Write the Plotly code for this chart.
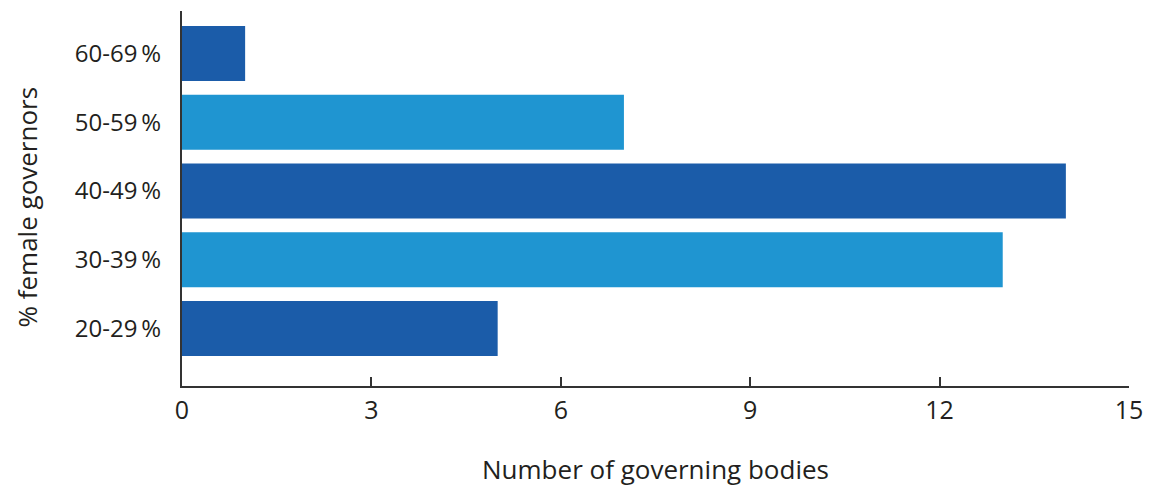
import plotly.graph_objects as go

categories = ["20-29\u2009%", "30-39\u2009%", "40-49\u2009%", "50-59\u2009%", "60-69\u2009%"]
values = [5, 13, 14, 7, 1]
bar_colors = ["#1b5ca9", "#1f95d1", "#1b5ca9", "#1f95d1", "#1b5ca9"]
x_ticks = [0, 3, 6, 9, 12, 15]

FONT = "Open Sans"
TXT = "#231f20"

fig = go.Figure(go.Bar(
    x=values, y=categories, orientation="h",
    marker=dict(color=bar_colors, line=dict(width=0)),
))

fig.update_layout(
    width=1155, height=485,
    margin=dict(l=174, r=34, t=3, b=107),
    paper_bgcolor="white", plot_bgcolor="white",
    bargap=0.2,
    showlegend=False,
    font=dict(family=FONT, size=24, color=TXT),
    annotations=[dict(
        text="% female governors", textangle=-90,
        xref="paper", yref="paper", x=0, y=0.5,
        xanchor="center", yanchor="middle",
        xshift=-156, yshift=-9, showarrow=False,
        font=dict(size=26, color=TXT),
    )],
)
fig.update_xaxes(
    range=[0, 15], tickvals=x_ticks, showgrid=False, zeroline=False,
    showline=True, linecolor="#333333", linewidth=2,
    ticks="inside", ticklen=9, tickwidth=2, tickcolor="#333333",
    tickfont=dict(size=25, color=TXT), ticklabelstandoff=1,
    title=dict(text="Number of governing bodies", font=dict(size=26, color=TXT), standoff=36),
)
fig.update_yaxes(
    range=[-0.836, 4.618], showgrid=False, zeroline=False,
    showline=True, linecolor="#333333", linewidth=2, layer="below traces",
    ticks="", ticklabelstandoff=14,
    tickfont=dict(size=24, color=TXT),
)

fig.write_html("out.html")
